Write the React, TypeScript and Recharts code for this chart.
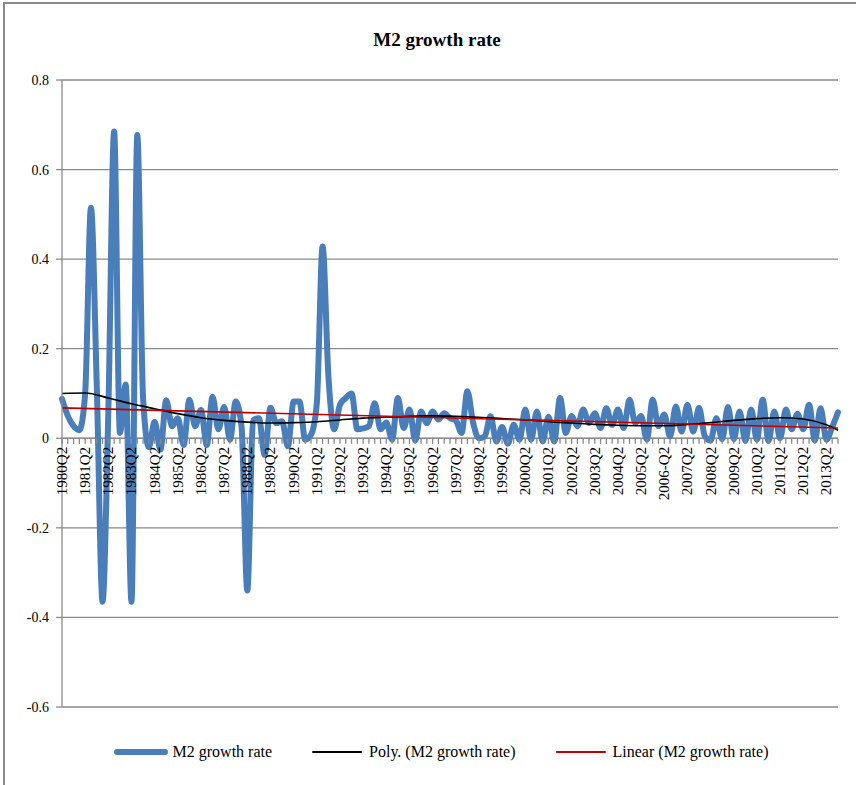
import {
  LineChart,
  Line,
  XAxis,
  YAxis,
  CartesianGrid,
  ReferenceLine,
  Legend,
} from "recharts";

// quarters on the category axis
const quarters = [
  "1980Q2", "1980Q3", "1980Q4",
  "1981Q1", "1981Q2", "1981Q3", "1981Q4",
  "1982Q1", "1982Q2", "1982Q3", "1982Q4",
  "1983Q1", "1983Q2", "1983Q3", "1983Q4",
  "1984Q1", "1984Q2", "1984Q3", "1984Q4",
  "1985Q1", "1985Q2", "1985Q3", "1985Q4",
  "1986Q1", "1986Q2", "1986Q3", "1986Q4",
  "1987Q1", "1987Q2", "1987Q3", "1987Q4",
  "1988Q1", "1988Q2", "1988Q3", "1988Q4",
  "1989Q1", "1989Q2", "1989Q3", "1989Q4",
  "1990Q1", "1990Q2", "1990Q3", "1990Q4",
  "1991Q1", "1991Q2", "1991Q3", "1991Q4",
  "1992Q1", "1992Q2", "1992Q3", "1992Q4",
  "1993Q1", "1993Q2", "1993Q3", "1993Q4",
  "1994Q1", "1994Q2", "1994Q3", "1994Q4",
  "1995Q1", "1995Q2", "1995Q3", "1995Q4",
  "1996Q1", "1996Q2", "1996Q3", "1996Q4",
  "1997Q1", "1997Q2", "1997Q3", "1997Q4",
  "1998Q1", "1998Q2", "1998Q3", "1998Q4",
  "1999Q1", "1999Q2", "1999Q3", "1999Q4",
  "2000Q1", "2000Q2", "2000Q3", "2000Q4",
  "2001Q1", "2001Q2", "2001Q3", "2001Q4",
  "2002Q1", "2002Q2", "2002Q3", "2002Q4",
  "2003Q1", "2003Q2", "2003Q3", "2003Q4",
  "2004Q1", "2004Q2", "2004Q3", "2004Q4",
  "2005Q1", "2005Q2", "2005Q3", "2005Q4",
  "2006Q1", "2006-Q2", "2006Q3", "2006Q4",
  "2007Q1", "2007Q2", "2007Q3", "2007Q4",
  "2008Q1", "2008Q2", "2008Q3", "2008Q4",
  "2009Q1", "2009Q2", "2009Q3", "2009Q4",
  "2010Q1", "2010Q2", "2010Q3", "2010Q4",
  "2011Q1", "2011Q2", "2011Q3", "2011Q4",
  "2012Q1", "2012Q2", "2012Q3", "2012Q4",
  "2013Q1", "2013Q2", "2013Q3", "2013Q4",
];

const m2Growth = [
  0.088, 0.05, 0.027,
  0.018, 0.1, 0.515, 0.12,
  -0.365, 0.06, 0.685, 0.012,
  0.12, -0.365, 0.677, 0.09,
  -0.02, 0.037, -0.025, 0.085,
  0.027, 0.045, -0.015, 0.086,
  0.027, 0.063, -0.015, 0.093,
  0.02, 0.07, -0.003, 0.082,
  0.027, -0.34, 0.04, 0.045,
  -0.037, 0.068, 0.034, 0.038,
  -0.018, 0.082, 0.082, -0.003,
  0.008, 0.078, 0.428, 0.14,
  0.02, 0.075, 0.09, 0.1,
  0.02, 0.022, 0.027, 0.078,
  0.02, 0.035, -0.003, 0.09,
  0.023, 0.064, -0.005, 0.06,
  0.034, 0.06, 0.042, 0.056,
  0.045, 0.04, 0.012, 0.105,
  0.034, 0.0, 0.004, 0.049,
  -0.007, 0.025, -0.012, 0.03,
  -0.003, 0.064, -0.003, 0.06,
  -0.007, 0.048, -0.007, 0.09,
  0.012, 0.05, 0.027, 0.064,
  0.034, 0.056, 0.023, 0.067,
  0.03, 0.064, 0.023, 0.086,
  0.034, 0.05, -0.003, 0.086,
  0.027, 0.053, 0.004, 0.071,
  0.015, 0.075, 0.015, 0.068,
  0.005, -0.005, 0.045, -0.002,
  0.07, -0.002, 0.06, -0.006,
  0.064, -0.003, 0.086, -0.006,
  0.06, 0.0, 0.064, 0.02,
  0.055, 0.02, 0.075, -0.005,
  0.067, -0.003, 0.025, 0.058,
];

const polyQuarters = [
  "1980Q2", "1981Q2", "1982Q2", "1983Q2", "1984Q2", "1985Q2", "1986Q2",
  "1987Q2", "1988Q2", "1989Q2", "1990Q2", "1991Q2", "1992Q2", "1993Q2",
  "1994Q2", "1995Q2", "1996Q2", "1997Q2", "1998Q2", "1999Q2", "2000Q2",
  "2001Q2", "2002Q2", "2003Q2", "2004Q2", "2005Q2", "2006-Q2", "2007Q2",
  "2008Q2", "2009Q2", "2010Q2", "2011Q2", "2012Q2", "2013Q2", "2013Q4",
];
const polyTrend = [
  0.1, 0.101, 0.09, 0.077, 0.066, 0.055, 0.046,
  0.04, 0.036, 0.034, 0.035, 0.037, 0.041, 0.045,
  0.047, 0.049, 0.05, 0.049, 0.047, 0.044, 0.041,
  0.037, 0.034, 0.031, 0.029, 0.028, 0.028, 0.031,
  0.035, 0.04, 0.044, 0.046, 0.043, 0.03, 0.018,
];

// linear trendline end points
const linearQuarters = ["1980Q2", "2013Q4"];
const linearTrend = [0.068, 0.023];

const yTicks = [-0.6, -0.4, -0.2, 0, 0.2, 0.4, 0.6, 0.8];

const data = quarters.map((q, i) => {
  const p = polyQuarters.indexOf(q);
  const l = linearQuarters.indexOf(q);
  return {
    q,
    m2: m2Growth[i],
    poly: p >= 0 ? polyTrend[p] : null,
    linear: l >= 0 ? linearTrend[l] : null,
  };
});

const W = 856;
const H = 785;
const TOP = 80;
const LEGEND_H = 77;
const PLOT_H = H - TOP - LEGEND_H;
const Y_MIN = -0.6;
const Y_MAX = 0.8;
// where the zero line sits (labels hang off it, Excel style)
const ZERO_Y = TOP + (PLOT_H * Y_MAX) / (Y_MAX - Y_MIN);

const GRAY = "#8a8a8a";
const FONT = '"Liberation Serif", "Times New Roman", serif';

const QuarterTick = (props: any) => {
  const { x, payload, index } = props;
  const zy = ZERO_Y;
  return (
    <g>
      <line x1={x} x2={x} y1={zy} y2={zy + 5} stroke={GRAY} strokeWidth={1.3} />
      {index % 4 === 0 && (
        <text
          x={x}
          y={zy + 8}
          transform={`rotate(-90 ${x} ${zy + 8})`}
          textAnchor="end"
          dominantBaseline="central"
          fontSize={15}
          fontFamily={FONT}
          fill="#000"
        >
          {payload.value}
        </text>
      )}
    </g>
  );
};

const legendOrder = ["m2", "poly", "linear"];
const sampleWidth: Record<string, number> = { m2: 6, poly: 2, linear: 2 };

const LegendContent = (props: any) => {
  const items = [...(props.payload || [])].sort(
    (a: any, b: any) =>
      legendOrder.indexOf(a.dataKey) - legendOrder.indexOf(b.dataKey)
  );
  return (
    <div
      style={{
        display: "flex",
        justifyContent: "center",
        gap: 38,
        paddingLeft: 44,
        paddingRight: 0,
        paddingTop: 35,
        fontFamily: FONT,
        fontSize: 16,
      }}
    >
      {items.map((entry: any) => (
        <div key={entry.dataKey} style={{ display: "flex", alignItems: "center" }}>
          <svg width={54} height={10} style={{ marginRight: 5 }}>
            <line
              x1={3}
              x2={51}
              y1={5}
              y2={5}
              stroke={entry.color}
              strokeWidth={sampleWidth[entry.dataKey]}
              strokeLinecap="round"
            />
          </svg>
          <span>{entry.value}</span>
        </div>
      ))}
    </div>
  );
};

export default function App() {
  return (
    <div
      style={{
        position: "absolute",
        left: 0,
        top: 0,
        width: W,
        height: H,
        background: "#fff",
        overflow: "hidden",
        fontFamily: FONT,
      }}
    >
      <div
        style={{
          position: "absolute",
          left: 3,
          top: 2,
          width: 900,
          height: 900,
          borderLeft: `2px solid ${GRAY}`,
          borderTop: `2px solid ${GRAY}`,
        }}
      />
      <div
        style={{
          position: "absolute",
          top: 29,
          left: 0,
          width: 874,
          textAlign: "center",
          fontWeight: "bold",
          fontSize: 19,
        }}
      >
        M2 growth rate
      </div>
      <div style={{ position: "absolute", left: 0, top: 0 }}>
        <LineChart
          width={W}
          height={H}
          data={data}
          margin={{ top: TOP, right: 18, bottom: 0, left: 0 }}
        >
          <CartesianGrid vertical={false} stroke={GRAY} strokeWidth={1.3} />
          <XAxis
            dataKey="q"
            interval={0}
            height={1}
            tickLine={false}
            axisLine={false}
            tick={(p: any) => <QuarterTick {...p} />}
          />
          <YAxis
            width={62}
            domain={[Y_MIN, Y_MAX]}
            ticks={yTicks}
            interval={0}
            tickFormatter={(v: number) => (v === 0 ? "0" : v.toFixed(1))}
            tick={{ fontSize: 14, fontFamily: FONT, fill: "#000" }}
            tickSize={6}
            tickMargin={7}
            stroke={GRAY}
            strokeWidth={1.3}
          />
          <ReferenceLine y={0} stroke={GRAY} strokeWidth={1.5} />
          <Line
            type="monotone"
            dataKey="m2"
            name="M2 growth rate"
            stroke="#4a7ebb"
            strokeWidth={6}
            strokeLinejoin="round"
            strokeLinecap="round"
            dot={false}
            isAnimationActive={false}
          />
          <Line
            type="monotone"
            dataKey="poly"
            name="Poly. (M2 growth rate)"
            stroke="#000"
            strokeWidth={1.6}
            dot={false}
            connectNulls
            isAnimationActive={false}
          />
          <Line
            type="linear"
            dataKey="linear"
            name="Linear (M2 growth rate)"
            stroke="#c00000"
            strokeWidth={1.6}
            dot={false}
            connectNulls
            isAnimationActive={false}
          />
          <Legend
            verticalAlign="bottom"
            height={LEGEND_H}
            content={<LegendContent />}
          />
        </LineChart>
      </div>
    </div>
  );
}
